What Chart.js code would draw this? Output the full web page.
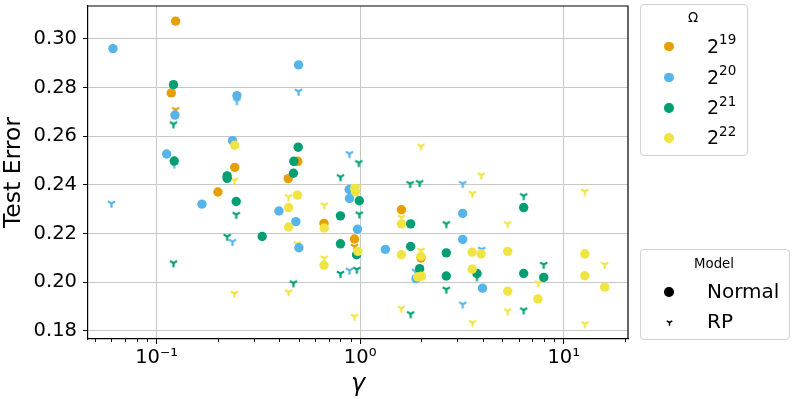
<!DOCTYPE html>
<html>
<head>
<meta charset="utf-8">
<script src="https://cdn.jsdelivr.net/npm/chart.js@4.4.1/dist/chart.umd.min.js"></script>
<style>
  body { margin: 0; background: #fff; }
  #wrap { position: relative; width: 797px; height: 399px; font-family: 'DejaVu Sans', sans-serif; color: #000; }
  #c { position: absolute; left: 0; top: 0; }
  .lg { position: absolute; box-sizing: border-box; border: 1px solid #d0d0d0; border-radius: 4px; background: rgba(255,255,255,0.8); }
  .t { position: absolute; white-space: nowrap; line-height: 1; }
  .dot { position: absolute; width: 9.4px; height: 9.4px; border-radius: 50%; }
</style>
</head>
<body>
<div id="wrap">
  <canvas id="c" width="797" height="399"></canvas>
</div>
<script>
// colours per Omega (2^19 .. 2^22)
var omegaExp = ['19', '20', '21', '22'];
var omegaColors = ['#E69F00', '#56B4E9', '#009E73', '#F0E442'];

// Normal model: gamma / test error
var gammaN19 = [0.124, 0.118, 0.242, 0.494, 0.443, 0.200, 0.664, 0.938, 1.595, 1.99];
var errN19   = [0.3073, 0.2778, 0.2472, 0.2497, 0.2426, 0.2371, 0.2242, 0.2178, 0.2298, 0.2100];

var gammaN20 = [0.061, 0.123, 0.112, 0.248, 0.498, 0.236, 0.167, 0.399, 0.483, 0.50, 0.883, 0.886, 0.97, 1.33, 3.19, 3.19, 1.88, 3.99];
var errN20   = [0.2960, 0.2687, 0.2527, 0.2767, 0.2893, 0.2582, 0.2321, 0.2293, 0.2249, 0.2142, 0.2381, 0.2344, 0.2218, 0.2135, 0.2283, 0.2176, 0.2015, 0.1976];

var gammaN21 = [0.121, 0.122, 0.496, 0.472, 0.47, 0.222, 0.222, 0.246, 0.33, 0.99, 0.80, 0.80, 0.96, 1.77, 1.77, 2.65, 1.96, 2.65, 3.75, 6.36, 6.36, 7.98];
var errN21   = [0.2812, 0.2498, 0.2555, 0.2497, 0.2448, 0.2437, 0.2427, 0.2332, 0.2188, 0.2335, 0.2273, 0.2158, 0.2113, 0.2240, 0.2147, 0.2121, 0.2056, 0.2026, 0.2036, 0.2307, 0.2036, 0.2020];

var gammaN22 = [0.242, 0.445, 0.492, 0.445, 0.94, 0.95, 0.666, 0.974, 0.664, 1.595, 1.595, 1.99, 3.55, 3.93, 5.31, 12.7, 1.92, 2.0, 3.55, 5.31, 7.47, 12.7, 15.9];
var errN22   = [0.2563, 0.2307, 0.2358, 0.2227, 0.2385, 0.2372, 0.2223, 0.2127, 0.2070, 0.2240, 0.2113, 0.2107, 0.2124, 0.2117, 0.2127, 0.2117, 0.2022, 0.2025, 0.2054, 0.1963, 0.1932, 0.2027, 0.1980];

// RP model: gamma / test error
var gammaR19 = [0.124, 0.938];
var errR19   = [0.2709, 0.2147];

var gammaR20 = [0.122, 0.248, 0.498, 0.886, 0.060, 0.236, 0.886, 3.19, 3.96, 3.19, 1.87];
var errR20   = [0.2485, 0.2745, 0.2784, 0.2528, 0.2324, 0.2167, 0.2049, 0.2405, 0.2135, 0.1910, 0.2045];

var gammaR21 = [0.121, 0.80, 0.985, 0.246, 0.222, 0.121, 0.47, 0.99, 0.963, 0.80, 1.76, 1.96, 6.36, 2.65, 7.98, 3.75, 2.65, 6.36, 1.77];
var errR21   = [0.2650, 0.2433, 0.2491, 0.2278, 0.2188, 0.2079, 0.1997, 0.2280, 0.2053, 0.2036, 0.2405, 0.2409, 0.2355, 0.2240, 0.2073, 0.2022, 0.1971, 0.1886, 0.1870];

var gammaR22 = [0.241, 0.241, 0.445, 0.49, 0.445, 0.666, 0.666, 0.938, 1.99, 1.595, 3.93, 3.56, 12.7, 5.31, 1.99, 15.9, 7.5, 5.31, 3.56, 12.7, 1.59, 0.97];
var errR22   = [0.2419, 0.1954, 0.2351, 0.2158, 0.1960, 0.2317, 0.2099, 0.1860, 0.2559, 0.2267, 0.2440, 0.2364, 0.2373, 0.2240, 0.2131, 0.2073, 0.1997, 0.1882, 0.1834, 0.1829, 0.1893, 0.2390];

// axis ticks
var xMajor = [0.1, 1, 10];
var xTickLabels = ['10\u207B\u00B9', '10\u2070', '10\u00B9'];
var xMinor = [0.05, 0.06, 0.07, 0.08, 0.09, 0.2, 0.3, 0.4, 0.5, 0.6, 0.7, 0.8, 0.9, 2, 3, 4, 5, 6, 7, 8, 9, 20];
var yTicks = [0.18, 0.20, 0.22, 0.24, 0.26, 0.28, 0.30];

var FONT = "'DejaVu Sans', sans-serif";

function pts(gs, es) {
  return gs.map(function (g, i) { return { x: g, y: es[i] }; });
}

// matplotlib "1" (tri_down) marker
function triDown(color, r, lw) {
  var s = Math.ceil(r * 2 + 4);
  var c = document.createElement('canvas');
  c.width = s; c.height = s;
  var g = c.getContext('2d');
  var cx = s / 2, cy = s / 2;
  g.strokeStyle = color;
  g.lineWidth = lw;
  g.beginPath();
  g.moveTo(cx, cy); g.lineTo(cx, cy + r);
  g.moveTo(cx, cy); g.lineTo(cx - r * 0.866, cy - r * 0.5);
  g.moveTo(cx, cy); g.lineTo(cx + r * 0.866, cy - r * 0.5);
  g.stroke();
  return c;
}

var normalSets = [[gammaN19, errN19], [gammaN20, errN20], [gammaN21, errN21], [gammaN22, errN22]];
var rpSets = [[gammaR19, errR19], [gammaR20, errR20], [gammaR21, errR21], [gammaR22, errR22]];

var datasets = [];
normalSets.forEach(function (s, i) {
  datasets.push({
    label: 'Normal 2^' + omegaExp[i],
    data: pts(s[0], s[1]),
    pointRadius: 4.7,
    pointBorderWidth: 0,
    backgroundColor: omegaColors[i],
    borderColor: omegaColors[i],
    order: 3 - i
  });
});
rpSets.forEach(function (s, i) {
  datasets.push({
    label: 'RP 2^' + omegaExp[i],
    data: pts(s[0], s[1]),
    pointStyle: triDown(omegaColors[i], 4.2, 2.2),
    pointRadius: 5,
    backgroundColor: omegaColors[i],
    borderColor: omegaColors[i],
    order: 7 - i
  });
});

var framePlugin = {
  id: 'frame',
  afterDraw: function (chart) {
    var a = chart.chartArea, g = chart.ctx, xs = chart.scales.x;
    g.save();
    g.strokeStyle = '#000';
    g.lineWidth = 1.2;
    g.beginPath();
    g.moveTo(a.left, a.top); g.lineTo(a.right, a.top); g.lineTo(a.right, a.bottom);
    g.stroke();
    g.lineWidth = 0.9;
    g.beginPath();
    xMinor.forEach(function (v) {
      var px = Math.round(xs.getPixelForValue(v)) + 0.5;
      if (px < a.left || px > a.right) return;
      g.moveTo(px, a.bottom); g.lineTo(px, a.bottom + 3);
    });
    g.stroke();
    g.restore();
  }
};

new Chart(document.getElementById('c'), {
  type: 'scatter',
  data: { datasets: datasets },
  options: {
    responsive: false,
    animation: false,
    layout: { padding: { left: 0, right: 169, top: 4, bottom: 0 } },
    plugins: { legend: { display: false }, tooltip: { enabled: false } },
    scales: {
      x: {
        type: 'logarithmic',
        min: 0.046,
        max: 20.7,
        afterBuildTicks: function (s) { s.ticks = xMajor.map(function (v) { return { value: v, major: true }; }); },
        afterFit: function (s) { s.height = 60; s.paddingLeft = 0; s.paddingRight = 0; },
        ticks: {
          autoSkip: false, maxRotation: 0, padding: 2, color: '#000',
          font: { family: FONT, size: 19.5 },
          callback: function (v) { return xTickLabels[xMajor.indexOf(v)]; }
        },
        grid: { color: '#c8c8c8', lineWidth: 1, tickColor: '#000', tickLength: 5, tickWidth: 1 },
        border: { color: '#000', width: 1.2 },
        title: { display: true, text: '\u03B3', color: '#000', padding: 0, font: { family: FONT, size: 24, style: 'italic' } }
      },
      y: {
        min: 0.1767,
        max: 0.3135,
        afterBuildTicks: function (s) { s.ticks = yTicks.map(function (v) { return { value: v }; }); },
        afterFit: function (s) { s.width = 88; s.paddingTop = 0; s.paddingBottom = 0; },
        ticks: {
          padding: 6, color: '#000',
          font: { family: FONT, size: 19.5 },
          callback: function (v) { return v.toFixed(2); }
        },
        grid: { color: '#c8c8c8', lineWidth: 1, tickColor: '#000', tickLength: 5, tickWidth: 1 },
        border: { color: '#000', width: 1.2 },
        title: { display: true, text: 'Test Error', color: '#000', padding: 0, font: { family: FONT, size: 23.5 } }
      }
    }
  },
  plugins: [framePlugin]
});

// legends (outside the axes, like the original)
var wrap = document.getElementById('wrap');
function box(l, t, w, h) {
  var d = document.createElement('div');
  d.className = 'lg';
  d.style.left = l + 'px'; d.style.top = t + 'px';
  d.style.width = w + 'px'; d.style.height = h + 'px';
  wrap.appendChild(d);
}
function text(html, l, baseline, size, center, w) {
  var d = document.createElement('div');
  d.className = 't';
  d.innerHTML = html;
  d.style.fontSize = size + 'px';
  d.style.top = (baseline - 0.846 * size) + 'px';
  d.style.left = l + 'px';
  if (center) { d.style.width = w + 'px'; d.style.textAlign = 'center'; }
  wrap.appendChild(d);
}
function dot(cx, cy, color) {
  var d = document.createElement('div');
  d.className = 'dot';
  d.style.background = color;
  d.style.left = (cx - 4.7) + 'px'; d.style.top = (cy - 4.7) + 'px';
  wrap.appendChild(d);
}

box(640, 4, 108, 152);
text('\u03A9', 640, 22.7, 13.3, true, 106);
var rowY = [46.3, 77.3, 108, 138];
omegaExp.forEach(function (e, i) {
  dot(669, rowY[i], omegaColors[i]);
  text('2<span style="font-size:13.5px;position:relative;top:-8.7px">' + e + '</span>', 707, rowY[i] + 6.4, 19, false);
});

box(640, 249, 150, 91);
text('Model', 640, 268.3, 13.3, true, 148);
dot(669, 292, '#000');
text('Normal', 707, 297.7, 20, false);
var rpMark = triDown('#000', 3.2, 1.5);
rpMark.style.position = 'absolute';
rpMark.style.left = (669 - rpMark.width / 2) + 'px';
rpMark.style.top = (322.7 - rpMark.height / 2) + 'px';
wrap.appendChild(rpMark);
text('RP', 707, 328.3, 20, false);
</script>
</body>
</html>
